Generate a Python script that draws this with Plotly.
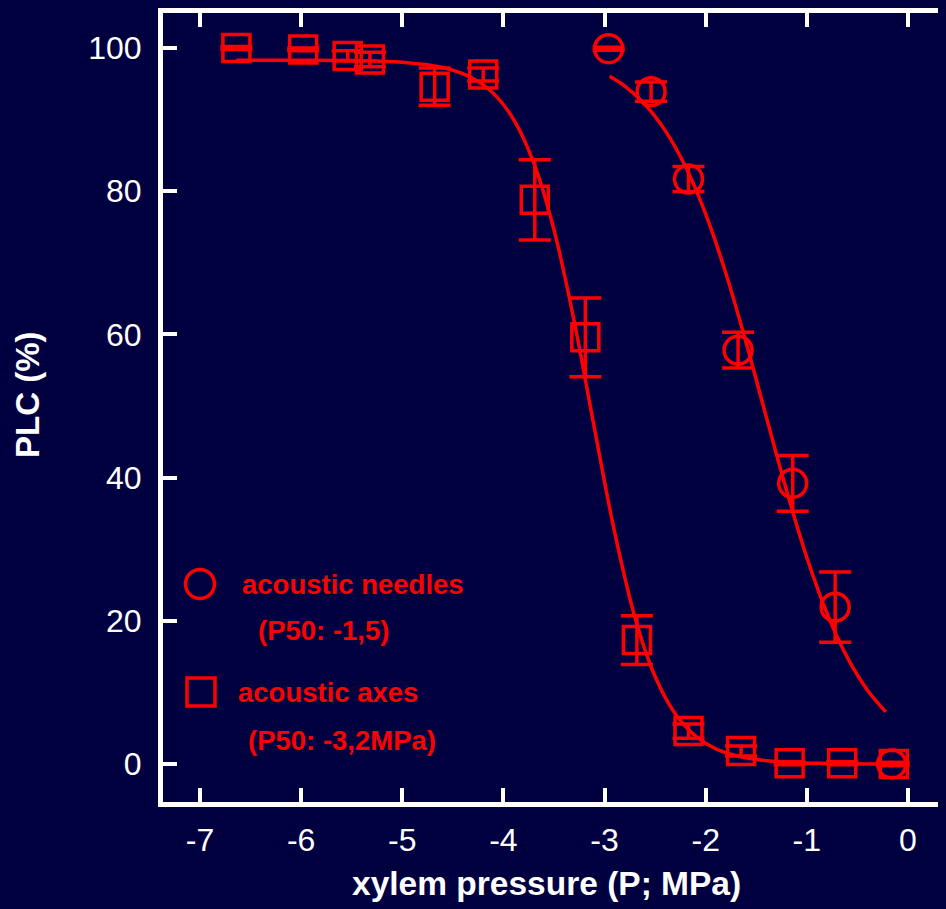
import plotly.graph_objects as go

# ---- data ----
axes_x = [-6.64, -5.98, -5.54, -5.32, -4.68, -4.20, -3.69, -3.19, -2.68, -2.17, -1.65, -1.17, -0.65, -0.14]
axes_y = [100.0, 99.8, 98.9, 98.4, 94.6, 96.3, 78.8, 59.6, 17.3, 4.6, 1.8, 0.1, 0.1, 0.0]
axes_err = [0.2, 0.2, 0.7, 1.0, 2.6, 0.9, 5.6, 5.5, 3.4, 1.0, 0.7, 0.2, 0.2, 0.2]

needles_x = [-2.96, -2.54, -2.17, -1.68, -1.14, -0.72, -0.16]
needles_y = [99.9, 93.9, 81.7, 57.8, 39.2, 21.9, 0.0]
needles_err = [0.2, 1.35, 1.75, 2.5, 3.9, 4.9, 0.2]

# fitted vulnerability curves
fit_axes_x = [-6.64, -6.0, -5.5, -5.0, -4.6, -4.3, -4.1, -3.9, -3.7, -3.5, -3.3, -3.1,
              -2.9, -2.7, -2.5, -2.3, -2.1, -1.9, -1.6, -1.2, -0.8, -0.14]
fit_axes_y = [98.3, 98.29, 98.24, 98.0, 97.28, 95.75, 93.67, 90.03, 83.96, 74.61, 61.82, 46.87,
              32.34, 20.51, 12.21, 6.97, 3.88, 2.12, 0.85, 0.25, 0.07, 0.01]
fit_needles_x = [-2.95, -2.8, -2.6, -2.4, -2.2, -2.0, -1.8, -1.6, -1.4, -1.2, -1.0, -0.8, -0.6, -0.4, -0.22]
fit_needles_y = [96.05, 94.67, 92.11, 88.46, 83.44, 76.80, 68.50, 58.83, 48.42, 38.15, 28.84, 21.03, 14.89, 10.31, 7.30]

x_ticks = [-7, -6, -5, -4, -3, -2, -1, 0]
y_ticks = [0, 20, 40, 60, 80, 100]

legend_needles = ["acoustic needles", "(P50: -1,5)"]
legend_axes = ["acoustic axes", "(P50: -3,2MPa)"]

# ---- style ----
BG = "#000040"
RED = "#ff0000"
WHITE = "#ffffff"
FONT = "Liberation Sans, Arial, sans-serif"

OFF = 8  # page body margin of the browser
W, H = 946 - OFF, 909 - OFF
L, R, T, B = 163 - OFF, 0, 13 - OFF, 107
PW, PH = W - L - R, H - T - B

def px(xp):  # page pixel -> paper fraction
    return (xp - OFF - L) / PW

def py(yp):
    return (H - B - (yp - OFF)) / PH

fig = go.Figure()

fig.add_trace(go.Scatter(x=fit_axes_x, y=fit_axes_y, mode="lines", line=dict(color=RED, width=3.5, shape="spline"),
                         hoverinfo="skip", showlegend=False))
fig.add_trace(go.Scatter(x=fit_needles_x, y=fit_needles_y, mode="lines", line=dict(color=RED, width=3.5, shape="spline"),
                         hoverinfo="skip", showlegend=False))

fig.add_trace(go.Scatter(
    x=axes_x, y=axes_y, mode="markers", showlegend=False,
    marker=dict(symbol="square-open", size=27, color=RED, line=dict(color=RED, width=3.5)),
    error_y=dict(type="data", array=axes_err, color=RED, thickness=3.5, width=16),
))
fig.add_trace(go.Scatter(
    x=needles_x, y=needles_y, mode="markers", showlegend=False,
    marker=dict(symbol="circle-open", size=28, color=RED, line=dict(color=RED, width=3.5)),
    error_y=dict(type="data", array=needles_err, color=RED, thickness=3.5, width=16),
))
# helper trace for the right-side tick axis
fig.add_trace(go.Scatter(x=[], y=[], yaxis="y2", showlegend=False, hoverinfo="skip"))

x_range = [-7.366, 0.376]
y_range = [-5.31, 104.89]

fig.update_layout(
    width=W, height=H,
    margin=dict(l=L, r=R, t=T, b=B, pad=0),
    paper_bgcolor=BG, plot_bgcolor=BG,
    font=dict(family=FONT, color=WHITE, size=32),
    xaxis=dict(range=x_range, tickvals=x_ticks, ticktext=[str(v) for v in x_ticks],
               showgrid=False, zeroline=False, showline=True, linecolor=WHITE, linewidth=5,
               mirror="ticks", ticks="inside", ticklen=14, tickwidth=4, tickcolor=WHITE,
               ticklabelstandoff=6, tickfont=dict(size=32, color=WHITE, family=FONT)),
    yaxis=dict(range=y_range, tickvals=y_ticks, ticktext=[str(v) for v in y_ticks],
               showgrid=False, zeroline=False, showline=True, linecolor=WHITE, linewidth=5,
               mirror=False, ticks="inside", ticklen=14, tickwidth=4, tickcolor=WHITE,
               ticklabelstandoff=10, tickfont=dict(size=32, color=WHITE, family=FONT)),
    yaxis2=dict(range=y_range, tickvals=y_ticks, overlaying="y", side="right",
                showgrid=False, zeroline=False, showline=False, showticklabels=False,
                ticks="inside", ticklen=8, tickwidth=4, tickcolor=WHITE),
    showlegend=False,
)

annotations = [
    dict(text="<b>xylem pressure (P; MPa)</b>", x=px(546), y=py(883), xref="paper", yref="paper",
         xanchor="center", yanchor="middle", showarrow=False, font=dict(size=33.5, color=WHITE, family=FONT)),
    dict(text="<b>PLC (%)</b>", x=px(28), y=py(395), xref="paper", yref="paper", textangle=-90,
         xanchor="center", yanchor="middle", showarrow=False, font=dict(size=33, color=WHITE, family=FONT)),
]
legend_items = [
    (legend_needles[0], 240, 584), (legend_needles[1], 256, 630),
    (legend_axes[0], 236, 692), (legend_axes[1], 246, 740),
]
for txt, xp, yp in legend_items:
    annotations.append(dict(text="<b>" + txt + "</b>", x=px(xp), y=py(yp), xref="paper", yref="paper",
                            xanchor="left", yanchor="middle", showarrow=False,
                            font=dict(size=27.5, color=RED, family=FONT)))
fig.update_layout(annotations=annotations)

fig.update_layout(shapes=[
    dict(type="circle", xref="paper", yref="paper", xsizemode="pixel", ysizemode="pixel",
         xanchor=px(200), yanchor=py(584), x0=-14.5, x1=14.5, y0=-14.5, y1=14.5,
         line=dict(color=RED, width=3.5)),
    dict(type="rect", xref="paper", yref="paper", xsizemode="pixel", ysizemode="pixel",
         xanchor=px(201), yanchor=py(692), x0=-14, x1=14, y0=-14, y1=14,
         line=dict(color=RED, width=3.5)),
])

page_bg_js = (
    "document.documentElement.style.backgroundColor='" + BG + "';"
    "document.body.style.backgroundColor='" + BG + "';"
    "document.documentElement.style.overflow='hidden';"
)
fig.write_html("out.html", post_script=page_bg_js)
